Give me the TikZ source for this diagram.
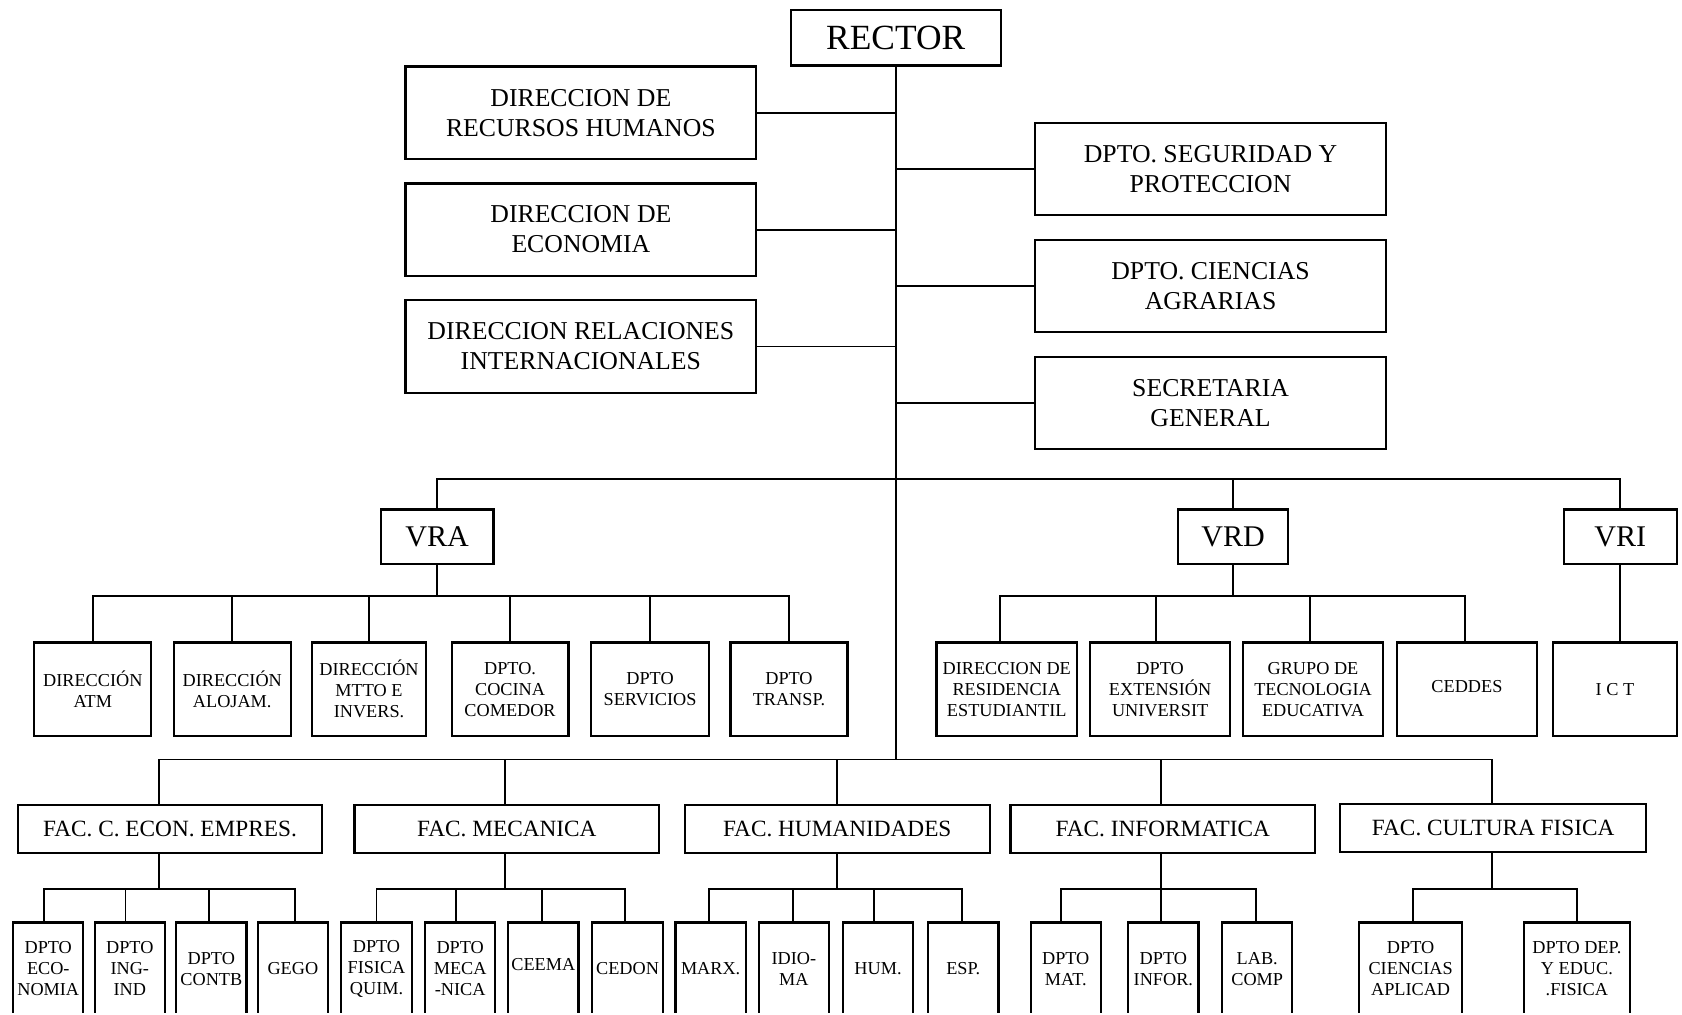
\documentclass[tikz,border=0pt]{standalone}
\usepackage{fontspec}
\setmainfont{Liberation Serif}
\newcommand\fsm{\fontsize{17}{19.5}\selectfont}
\newcommand\fmd{\fontsize{24}{28}\selectfont}
\newcommand\ffac{\fontsize{21.7}{26}\selectfont}
\newcommand\fvr{\fontsize{28}{32}\selectfont}
\newcommand\frec{\fontsize{33}{38}\selectfont}
\begin{document}
\begin{tikzpicture}[x=1pt,y=-1pt,
  bx/.style={draw, line width=2pt, inner sep=0pt, align=center},
  ln/.style={line width=1.8pt},
  topbox/.style={bx, minimum width=327pt, minimum height=86pt, font=\fmd},
  vrbox/.style={bx, minimum height=51pt, font=\fvr},
  sbox/.style={bx, minimum height=87pt, font=\fsm},
  facbox/.style={bx, minimum height=44.5pt, font=\ffac, minimum width=284pt},
  botbox/.style={bx, minimum height=86pt, font=\fsm, minimum width=65.5pt},
]
\useasboundingbox (0,0) rectangle (1568,946);
\clip (0,0) rectangle (1568,943.5);

% top level
\node[bx, minimum width=196pt, minimum height=52pt, font=\frec] (rector) at (835,35) {RECTOR};
\node[topbox] (rrhh) at (541.5,105) {DIRECCION DE\\RECURSOS HUMANOS};
\node[topbox] (eco) at (541.5,214) {DIRECCION DE\\ECONOMIA};
\node[topbox] (rri) at (541.5,323) {DIRECCION RELACIONES\\INTERNACIONALES};
\node[topbox] (seg) at (1128.5,157.5) {DPTO. SEGURIDAD Y\\PROTECCION};
\node[topbox] (agr) at (1128.5,266.5) {DPTO. CIENCIAS\\AGRARIAS};
\node[topbox] (sec) at (1128.5,375.5) {SECRETARIA\\GENERAL};

% vice-rectors
\node[vrbox, minimum width=105pt] (vra) at (407.5,500.5) {VRA};
\node[vrbox, minimum width=103pt] (vrd) at (1149.5,500.5) {VRD};
\node[vrbox, minimum width=105pt] (vri) at (1510.5,500.5) {VRI};

% VRA children
\node[sbox, minimum width=109pt] (a1) at (86.5,642.5) {DIRECCIÓN\\ATM};
\node[sbox, minimum width=109pt] (a2) at (216.5,642.5) {DIRECCIÓN\\ALOJAM.};
\node[sbox, minimum width=106pt] (a3) at (344,642.5) {DIRECCIÓN\\MTTO E\\INVERS.};
\node[sbox, minimum width=109pt] (a4) at (475.5,642.5) {DPTO.\\COCINA\\COMEDOR};
\node[sbox, minimum width=110pt] (a5) at (606,642.5) {DPTO\\SERVICIOS};
\node[sbox, minimum width=109pt] (a6) at (735.5,642.5) {DPTO\\TRANSP.};

% VRD children
\node[sbox, minimum width=131pt] (d1) at (938.5,642.5) {DIRECCION DE\\RESIDENCIA\\ESTUDIANTIL};
\node[sbox, minimum width=131pt] (d2) at (1081.5,642.5) {DPTO\\EXTENSIÓN\\UNIVERSIT};
\node[sbox, minimum width=130pt] (d3) at (1224,642.5) {GRUPO DE\\TECNOLOGIA\\EDUCATIVA};
\node[sbox, minimum width=131pt] (d4) at (1367.5,642.5) {CEDDES\\[-13.5pt]};
\node[sbox, minimum width=115pt] (ict) at (1505.5,642.5) {I C T};

% faculties
\node[facbox, minimum width=283pt] (f1) at (158.5,773) {FAC. C. ECON. EMPRES.};
\node[facbox] (f2) at (472.5,773) {FAC. MECANICA};
\node[facbox] (f3) at (780.5,773) {FAC. HUMANIDADES};
\node[facbox] (f4) at (1084,773) {FAC. INFORMATICA};
\node[facbox, minimum width=285pt, minimum height=45pt] (f5) at (1392,772) {FAC. CULTURA FISICA};

% faculty departments
\node[botbox] (e1) at (45,903) {DPTO\\ECO-\\NOMIA};
\node[botbox] (e2) at (121,903) {DPTO\\ING-\\IND};
\node[botbox] (e3) at (197,903) {DPTO\\CONTB};
\node[botbox] (e4) at (273,903) {GEGO};
\node[botbox] (m1) at (351,903) {DPTO\\FISICA\\QUIM.};
\node[botbox] (m2) at (429,903) {DPTO\\MECA\\-NICA};
\node[botbox] (m3) at (506.5,903) {CEEMA\\[-11pt]};
\node[botbox] (m4) at (585,903) {CEDON};
\node[botbox] (h1) at (662.5,903) {MARX.};
\node[botbox] (h2) at (740,903) {IDIO-\\MA};
\node[botbox] (h3) at (818.5,903) {HUM.};
\node[botbox] (h4) at (898,903) {ESP.};
\node[botbox] (i1) at (993.5,903) {DPTO\\MAT.};
\node[botbox] (i2) at (1084.5,903) {DPTO\\INFOR.};
\node[botbox] (i3) at (1172,903) {LAB.\\COMP};
\node[botbox, minimum width=96.5pt] (c1) at (1315,903) {DPTO\\CIENCIAS\\APLICAD};
\node[botbox, minimum width=98.6pt] (c2) at (1470,903) {DPTO DEP.\\Y EDUC.\\.FISICA};

% connectors: rector
\coordinate (vbar) at (835,446.6);
\coordinate (fbar) at (835,708);
\coordinate (abar) at (0,555.3);
\coordinate (bbar) at (0,829);
\draw[ln] (rector.south) -- (fbar);
\foreach \n in {rrhh,eco,rri} \draw[ln] (\n.east) -- (\n.east -| rector.south);
\foreach \n in {seg,agr,sec} \draw[ln] (\n.west) -- (\n.west -| rector.south);

% vice-rector bar
\draw[ln] (vra.north) |- (vri.north |- vbar) -- (vri.north);
\draw[ln] (vrd.north) -- (vrd.north |- vbar);

% VRA
\draw[ln] (vra.south) -- (vra.south |- abar);
\draw[ln] (a1.north) |- (a6.north |- abar) -- (a6.north);
\foreach \n in {a2,a3,a4,a5} \draw[ln] (\n.north) -- (\n.north |- abar);

% VRD
\draw[ln] (vrd.south) -- (vrd.south |- abar);
\draw[ln] ([xshift=-6.5pt]d1.north) |- ([xshift=-1.5pt]d4.north |- abar) -- ([xshift=-1.5pt]d4.north);
\draw[ln] ([xshift=-3.5pt]d2.north) -- ([xshift=-3.5pt]d2.north |- abar);
\draw[ln] ([xshift=-3pt]d3.north) -- ([xshift=-3pt]d3.north |- abar);

% VRI
\draw[ln] (vri.south) -- (vri.south |- ict.north);

% faculty bar
\draw[ln] ([xshift=-10.5pt]f1.north) |- ([xshift=-1.4pt]f5.north |- fbar) -- ([xshift=-1.4pt]f5.north);
\draw[ln] ([xshift=-1.5pt]f2.north) -- ([xshift=-1.5pt]f2.north |- fbar);
\draw[ln] (f3.north) -- (f3.north |- fbar);
\draw[ln] ([xshift=-2pt]f4.north) -- ([xshift=-2pt]f4.north |- fbar);

% FAC. C. ECON. EMPRES.
\draw[ln] ([xshift=-10.5pt]f1.south) -- ([xshift=-10.5pt]f1.south |- bbar);
\draw[ln] ([xshift=-4.4pt]e1.north) |- ([xshift=2pt]e4.north |- bbar) -- ([xshift=2pt]e4.north);
\draw[ln] ([xshift=-4pt]e2.north) -- ([xshift=-4pt]e2.north |- bbar);
\draw[ln] ([xshift=-2pt]e3.north) -- ([xshift=-2pt]e3.north |- bbar);

% FAC. MECANICA
\draw[ln] ([xshift=-1.5pt]f2.south) -- ([xshift=-1.5pt]f2.south |- bbar);
\draw[ln] (m1.north) |- ([xshift=-2pt]m4.north |- bbar) -- ([xshift=-2pt]m4.north);
\draw[ln] ([xshift=-4pt]m2.north) -- ([xshift=-4pt]m2.north |- bbar);
\draw[ln] ([xshift=-1.5pt]m3.north) -- ([xshift=-1.5pt]m3.north |- bbar);

% FAC. HUMANIDADES
\draw[ln] (f3.south) -- (f3.south |- bbar);
\draw[ln] ([xshift=-1.5pt]h1.north) |- ([xshift=-1pt]h4.north |- bbar) -- ([xshift=-1pt]h4.north);
\draw[ln] ([xshift=-1pt]h2.north) -- ([xshift=-1pt]h2.north |- bbar);
\draw[ln] ([xshift=-3.5pt]h3.north) -- ([xshift=-3.5pt]h3.north |- bbar);

% FAC. INFORMATICA
\draw[ln] ([xshift=-2pt]f4.south) -- ([xshift=-2pt]f4.south |- bbar);
\draw[ln] ([xshift=-4pt]i1.north) |- ([xshift=-1pt]i3.north |- bbar) -- ([xshift=-1pt]i3.north);
\draw[ln] ([xshift=-2.5pt]i2.north) -- ([xshift=-2.5pt]i2.north |- bbar);

% FAC. CULTURA FISICA
\draw[ln] ([xshift=-1.4pt]f5.south) -- ([xshift=-1.4pt]f5.south |- bbar);
\draw[ln] ([xshift=2pt]c1.north) |- (c2.north |- bbar) -- (c2.north);
\end{tikzpicture}
\end{document}
